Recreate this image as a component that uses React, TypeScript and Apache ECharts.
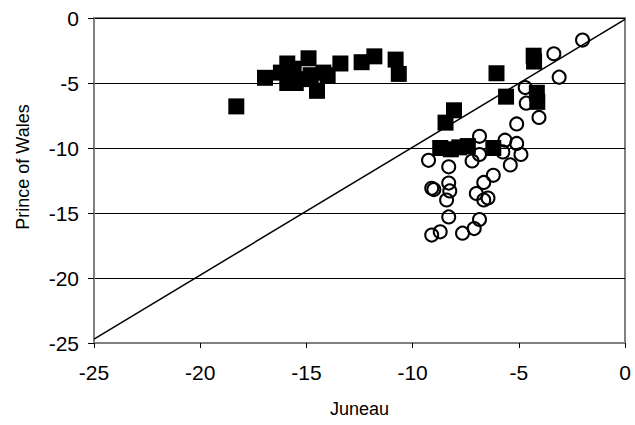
import React, { useEffect, useRef } from "react";
import * as echarts from "echarts";

const xTicks = [-25, -20, -15, -10, -5, 0];
const yTicks = [-25, -20, -15, -10, -5, 0];
const xTitle = "Juneau";
const yTitle = "Prince of Wales";

// Squares (filled)
const squares: number[][] = [
  [-18.3, -6.8], [-16.95, -4.6], [-16.2, -4.2], [-15.9, -3.5], [-15.9, -5.0],
  [-15.5, -5.0], [-15.6, -3.9], [-15.2, -4.7], [-14.9, -3.1], [-14.8, -4.4],
  [-14.5, -5.6], [-14.2, -4.2], [-14.0, -4.4], [-13.4, -3.5], [-12.4, -3.4],
  [-11.8, -2.95], [-10.8, -3.2], [-10.65, -4.3],
  [-6.05, -4.25], [-4.3, -2.9], [-4.28, -3.35], [-5.6, -6.05], [-4.15, -5.75],
  [-4.13, -6.45], [-8.05, -7.1], [-8.45, -8.05],
  [-8.7, -10.0], [-8.2, -10.1], [-7.8, -9.95], [-7.4, -9.85], [-6.2, -10.0],
];

// Circles (open)
const circles: number[][] = [
  [-2.0, -1.7], [-3.35, -2.75], [-3.1, -4.55], [-4.7, -5.35], [-4.65, -6.55],
  [-4.05, -7.65], [-5.1, -8.15], [-6.85, -9.1], [-5.65, -9.4], [-5.1, -9.65],
  [-4.9, -10.5], [-5.75, -10.3], [-6.85, -10.5], [-7.2, -11.0], [-9.25, -10.95],
  [-5.4, -11.3], [-8.3, -11.45], [-6.2, -12.1], [-6.65, -12.65], [-9.1, -13.1],
  [-9.0, -13.2], [-8.3, -12.7], [-8.25, -13.3], [-8.4, -14.0], [-7.0, -13.5],
  [-6.65, -14.0], [-6.45, -13.85], [-8.3, -15.3], [-6.85, -15.5], [-7.1, -16.2],
  [-7.65, -16.55], [-8.7, -16.45], [-9.1, -16.7],
];

// Reference line
const refLine: number[][] = [[-25, -24.7], [0, -0.1]];

export default function App() {
  const ref = useRef<HTMLDivElement>(null);
  useEffect(() => {
    if (!ref.current) return;
    const chart = echarts.init(ref.current, null, { renderer: "svg" });
    const font = "Arial, 'Liberation Sans', sans-serif";
    chart.setOption({
      animation: false,
      backgroundColor: "#ffffff",
      grid: {
        left: 94, top: 18, right: 10, bottom: 82,
        show: true, borderColor: "#808080", borderWidth: 2,
      },
      graphic: [
        {
          type: "text", x: 23, y: 167, rotation: Math.PI / 2,
          style: {
            text: yTitle, fontFamily: font, fontSize: 18, fill: "#000",
            align: "center", verticalAlign: "middle",
          },
        },
      ],
      xAxis: {
        type: "value", min: xTicks[0], max: xTicks[xTicks.length - 1], interval: 5,
        name: xTitle, nameLocation: "middle", nameGap: 57,
        nameTextStyle: { fontFamily: font, fontSize: 18, color: "#000" },
        axisLine: { show: true, onZero: false, lineStyle: { color: "#808080", width: 2 } },
        axisTick: { show: true, inside: false, length: 5, lineStyle: { color: "#000" } },
        axisLabel: { fontFamily: font, fontSize: 21, color: "#000", margin: 19 },
        splitLine: { show: false },
      },
      yAxis: {
        type: "value", min: yTicks[0], max: yTicks[yTicks.length - 1], interval: 5,
        axisLine: { show: true, onZero: false, lineStyle: { color: "#808080", width: 2 } },
        axisTick: { show: true, inside: false, length: 6, lineStyle: { color: "#000" } },
        axisLabel: { fontFamily: font, fontSize: 21, color: "#000", margin: 15 },
        splitLine: { show: true, lineStyle: { color: "#000", width: 1 } },
      },
      series: [
        {
          type: "line", data: refLine, symbol: "none", silent: true,
          lineStyle: { color: "#000", width: 1.5 }, z: 1,
        },
        {
          type: "scatter", data: squares, symbol: "rect", symbolSize: 16,
          itemStyle: { color: "#000", opacity: 1 }, z: 2,
        },
        {
          type: "scatter", data: circles, symbol: "circle", symbolSize: 13,
          itemStyle: { color: "rgba(0,0,0,0)", borderColor: "#000", borderWidth: 2, opacity: 1 }, z: 3,
        },
      ],
    });
    return () => chart.dispose();
  }, []);
  return (
    <div
      ref={ref}
      style={{ position: "fixed", left: 0, top: 0, width: 635, height: 425 }}
    />
  );
}
